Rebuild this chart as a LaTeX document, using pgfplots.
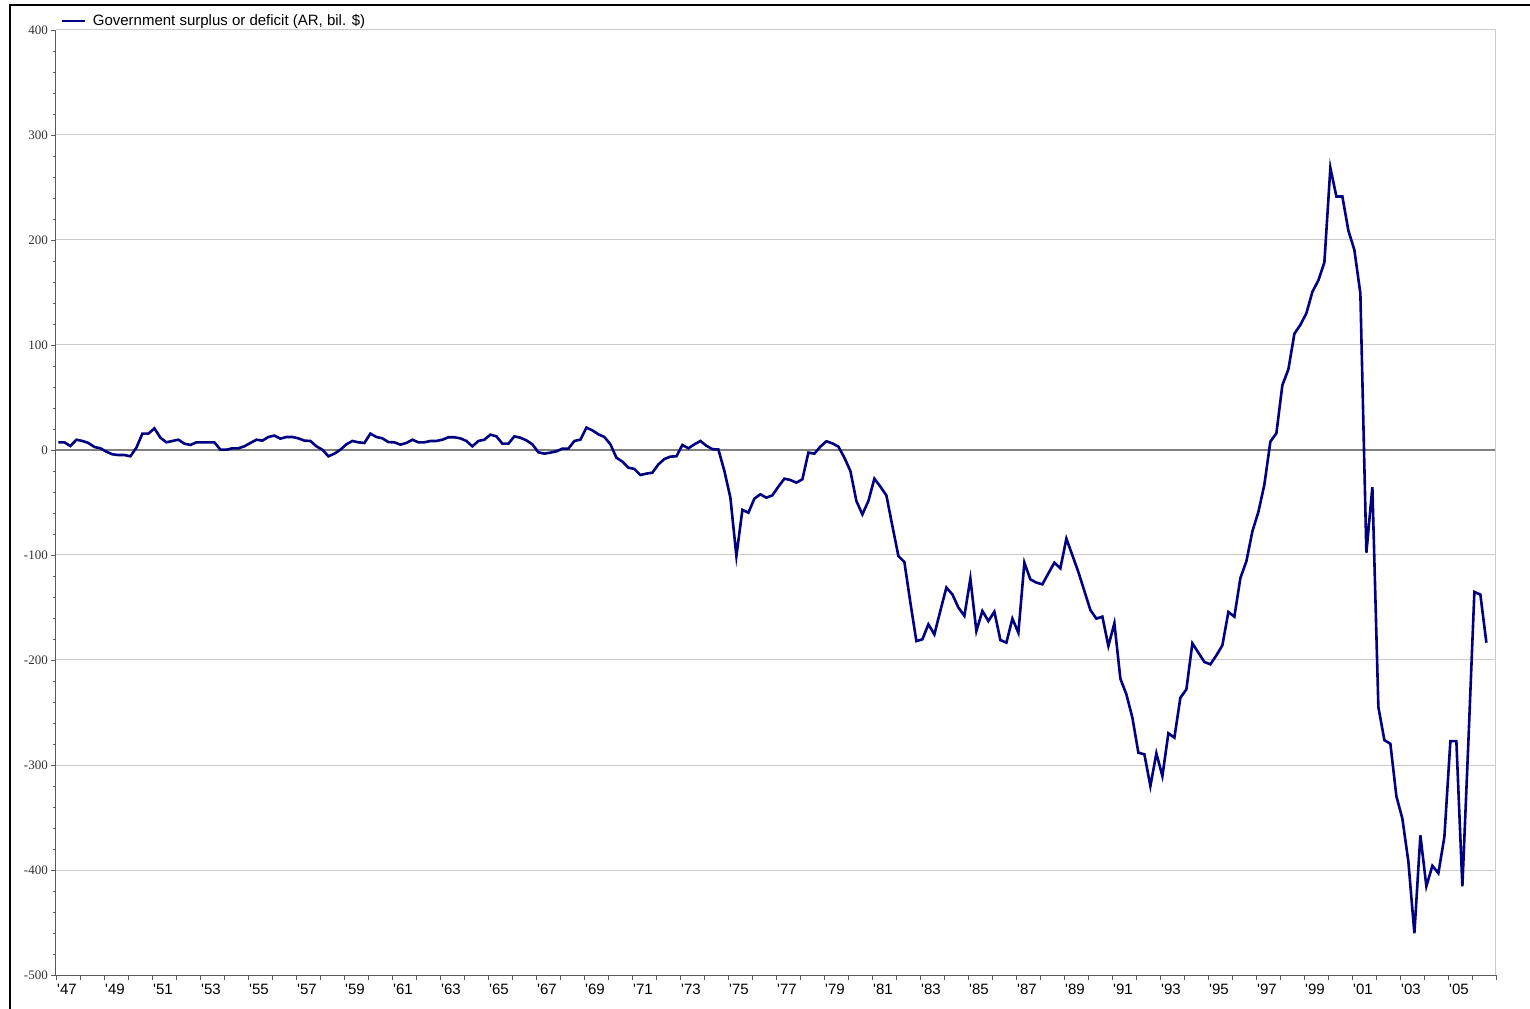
\documentclass[border=0pt]{standalone}
\usepackage{fontspec}
\setmainfont{Liberation Sans}
\newfontfamily\serifnum{Liberation Serif}
\usepackage{pgfplots}
\usepackage{pgfplotstable}
\pgfplotsset{compat=1.18}
\definecolor{navyc}{RGB}{0,0,128}
\definecolor{gridc}{RGB}{204,204,204}
\definecolor{zeroc}{RGB}{128,128,128}
\definecolor{axisc}{RGB}{90,90,90}
\newcommand\ap{\textquotesingle}
\pgfplotstableread{
t v
1947.00 7.3
1947.25 7.3
1947.50 3.8
1947.75 9.8
1948.00 8.6
1948.25 6.7
1948.50 2.9
1948.75 1.6
1949.00 -1.6
1949.25 -4.1
1949.50 -4.8
1949.75 -4.8
1950.00 -6.0
1950.25 2.2
1950.50 15.6
1950.75 15.6
1951.00 20.6
1951.25 11.7
1951.50 7.3
1951.75 8.6
1952.00 9.8
1952.25 6.0
1952.50 4.8
1952.75 7.3
1953.00 7.3
1953.25 7.3
1953.50 7.3
1953.75 0.3
1954.00 0.3
1954.25 1.6
1954.50 1.6
1954.75 3.5
1955.00 6.7
1955.25 9.8
1955.50 8.9
1955.75 12.4
1956.00 13.7
1956.25 10.8
1956.50 12.4
1956.75 12.4
1957.00 11.1
1957.25 8.9
1957.50 8.6
1957.75 3.5
1958.00 0.3
1958.25 -6.0
1958.50 -3.5
1958.75 0.3
1959.00 5.4
1959.25 8.6
1959.50 7.3
1959.75 6.7
1960.00 15.6
1960.25 12.4
1960.50 11.1
1960.75 7.5
1961.00 7.3
1961.25 5.1
1961.50 6.7
1961.75 9.8
1962.00 7.3
1962.25 7.3
1962.50 8.6
1962.75 8.6
1963.00 9.8
1963.25 12.1
1963.50 12.1
1963.75 11.1
1964.00 8.6
1964.25 3.5
1964.50 8.6
1964.75 9.8
1965.00 14.6
1965.25 13.0
1965.50 6.0
1965.75 6.0
1966.00 13.0
1966.25 11.7
1966.50 9.2
1966.75 5.4
1967.00 -2.2
1967.25 -3.5
1967.50 -2.5
1967.75 -1.3
1968.00 1.3
1968.25 1.3
1968.50 8.6
1968.75 9.8
1969.00 21.3
1969.25 18.7
1969.50 14.9
1969.75 12.4
1970.00 5.4
1970.25 -7.3
1970.50 -11.1
1970.75 -16.8
1971.00 -18.1
1971.25 -23.8
1971.50 -22.5
1971.75 -21.6
1972.00 -13.7
1972.25 -8.6
1972.50 -6.3
1972.75 -6.0
1973.00 4.8
1973.25 1.6
1973.50 5.4
1973.75 8.6
1974.00 4.0
1974.25 0.8
1974.50 0.5
1974.75 -20
1975.00 -45.4
1975.25 -101
1975.50 -57
1975.75 -59.7
1976.00 -46.3
1976.25 -42.2
1976.50 -45.4
1976.75 -43.2
1977.00 -34.9
1977.25 -27.3
1977.50 -28.6
1977.75 -31.1
1978.00 -27.9
1978.25 -2.5
1978.50 -3.5
1978.75 3.2
1979.00 8.3
1979.25 6.3
1979.50 3.2
1979.75 -7.3
1980.00 -20
1980.25 -48.6
1980.50 -61.3
1980.75 -48.6
1981.00 -27.3
1981.25 -34.9
1981.50 -43.2
1981.75 -72.4
1982.00 -101
1982.25 -106.7
1982.50 -145.4
1982.75 -182
1983.00 -180.3
1983.25 -166
1983.50 -175.6
1983.75 -153
1984.00 -131
1984.25 -137.5
1984.50 -150
1984.75 -158
1985.00 -122.5
1985.25 -172.4
1985.50 -153.3
1985.75 -162.9
1986.00 -154
1986.25 -181
1986.50 -183.5
1986.75 -160.6
1987.00 -174
1987.25 -107.3
1987.50 -123.2
1987.75 -126.3
1988.00 -127.9
1988.25 -117.5
1988.50 -107.3
1988.75 -112.7
1989.00 -84.4
1989.25 -100.3
1989.50 -116.2
1989.75 -134.3
1990.00 -152.4
1990.25 -160.6
1990.50 -158.7
1990.75 -186.7
1991.00 -165
1991.25 -217.8
1991.50 -232.7
1991.75 -254.9
1992.00 -288.3
1992.25 -289.8
1992.50 -320
1992.75 -288.9
1993.00 -310.5
1993.25 -269.8
1993.50 -274
1993.75 -235.9
1994.00 -228
1994.25 -184.1
1994.50 -193
1994.75 -201.9
1995.00 -204.1
1995.25 -195.6
1995.50 -186
1995.75 -154.3
1996.00 -158.7
1996.25 -122
1996.50 -106
1996.75 -77.5
1997.00 -59
1997.25 -32.9
1997.50 8.0
1997.75 15.9
1998.00 61.8
1998.25 76.8
1998.50 110.7
1998.75 119.2
1999.00 130.2
1999.25 150.6
1999.50 161.6
1999.75 178.6
2000.00 268.8
2000.25 241.4
2000.50 241.4
2000.75 209
2001.00 190.5
2001.25 149.1
2001.50 -97.8
2001.75 -35.4
2002.00 -244.9
2002.25 -276.3
2002.50 -279.8
2002.75 -329.7
2003.00 -351.1
2003.25 -392
2003.50 -460.3
2003.75 -367
2004.00 -415.5
2004.25 -396
2004.50 -403
2004.75 -368.6
2005.00 -277.3
2005.25 -277.3
2005.50 -415.5
2005.75 -278
2006.00 -135.2
2006.25 -137.7
2006.50 -183.5
}\deficit

\begin{document}
\begin{tikzpicture}[x=1bp,y=1bp]
\useasboundingbox (-56,-33) rectangle (1474,975);
\draw[black, line width=1.3bp] (-46,-45) -- (-46,970) -- (1480,970);
\begin{axis}[
  at={(0,0)}, anchor=south west,
  scale only axis, width=1440bp, height=945bp,
  xmin=1947, xmax=2007, ymin=-500, ymax=400,
  axis x line*=bottom, axis y line*=left,
  axis line style={color=axisc, line width=1bp},
  clip=false,
  tick align=outside,
  major tick length=5bp, minor tick length=3bp,
  tick style={color=axisc, line width=0.9bp},
  xtick={1947,1948,...,2007},
  xticklabels={\ap47,{},\ap49,{},\ap51,{},\ap53,{},\ap55,{},\ap57,{},\ap59,{},\ap61,{},\ap63,{},\ap65,{},\ap67,{},\ap69,{},\ap71,{},\ap73,{},\ap75,{},\ap77,{},\ap79,{},\ap81,{},\ap83,{},\ap85,{},\ap87,{},\ap89,{},\ap91,{},\ap93,{},\ap95,{},\ap97,{},\ap99,{},\ap01,{},\ap03,{},\ap05,{},{}},
  xticklabel style={font=\fontsize{15bp}{18bp}\selectfont, anchor=north west, inner sep=0pt, xshift=1bp, yshift=-4bp},
  ytick={-500,-400,...,400},
  yticklabels={-500,-400,-300,-200,-100,0,100,200,300,400},
  minor y tick num=4,
  yticklabel style={font=\serifnum\fontsize{13bp}{15bp}\selectfont, text=black!80, anchor=east, inner sep=0pt, xshift=-3bp},
  ymajorgrids,
  major grid style={color=gridc, line width=1bp},
  extra y ticks={0},
  extra y tick labels={},
  extra y tick style={major grid style={color=zeroc, line width=1.2bp}, major tick length=0pt},
  legend style={at={(axis description cs:0.0028,1.0095)}, anchor=west, draw=none, fill=none, inner sep=0pt, column sep=5bp, font=\fontsize{15bp}{18bp}\selectfont, cells={anchor=west}},
  legend image code/.code={\draw[#1, line width=2.6bp] (0bp,0bp) -- (23bp,0bp);},
]
\draw[color=gridc, line width=1bp] (rel axis cs:1,0) -- (rel axis cs:1,1);
\addplot[color=navyc, line width=2.6bp, mark=none, x filter/.expression={x+0.1}] table[x=t, y=v] {\deficit};
\addlegendentry{Government surplus or deficit (AR, bil. \$)}
\end{axis}
\end{tikzpicture}
\end{document}
